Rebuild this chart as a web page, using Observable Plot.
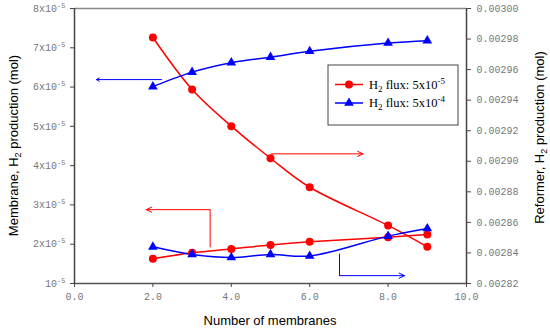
<!DOCTYPE html>
<html>
<head>
<meta charset="utf-8">
<script src="https://cdn.jsdelivr.net/npm/d3@7"></script>
<script src="https://cdn.jsdelivr.net/npm/@observablehq/plot@0.6"></script>
<style>
  html, body { margin: 0; padding: 0; background: #fff; }
  #chart svg { display: block; }
  g[aria-label="y-axis tick label"] text,
  g[aria-label="x-axis tick label"] text { font-family: "Liberation Mono", "DejaVu Sans Mono", monospace; fill: #777; }
</style>
</head>
<body>
<div id="chart"></div>
<script>
// ---- Data ----
const membranes = [2, 3, 4, 5, 6, 8, 9];
// Membrane H2 production (units of 1e-5 mol), left axis
const membraneFlux5e5 = [1.63, 1.78, 1.88, 1.98, 2.06, 2.18, 2.25];
const membraneFlux5e4 = [6.01, 6.38, 6.62, 6.76, 6.91, 7.12, 7.18];
// Reformer H2 production (mol), right axis
const reformerFlux5e5 = [0.002981, 0.002947, 0.002923, 0.002902, 0.002883, 0.002858, 0.002844];
const reformerFlux5e4 = [0.002844, 0.002839, 0.002837, 0.002839, 0.002838, 0.002851, 0.002856];

const xTicks = [0, 2, 4, 6, 8, 10];
const leftTicks = [1, 2, 3, 4, 5, 6, 7, 8];
const leftTickLabels = ["10", "2x10", "3x10", "4x10", "5x10", "6x10", "7x10", "8x10"];
const rightTicks = [0.00282, 0.00284, 0.00286, 0.00288, 0.00290, 0.00292, 0.00294, 0.00296, 0.00298, 0.00300];
const rightTickLabels = ["0.00282", "0.00284", "0.00286", "0.00288", "0.00290", "0.00292", "0.00294", "0.00296", "0.00298", "0.00300"];

const seriesColors = ["#ff0000", "#0000ff"];

// Annotation arrows (x in membranes, y in left-axis units of 1e-5)
const arrowColor = ["#0000ff", "#ff0000", "#ff0000", "#0000ff"];
const arrowX1 = [2.22, 5.02, 3.46, 6.76];
const arrowY1 = [6.19, 4.30, 2.88, 1.20];
const arrowX2 = [0.56, 7.36, 1.83, 8.42];
const arrowY2 = [6.19, 4.30, 2.88, 1.20];
const leaderColor = ["#ff0000", "#0000ff"];
const leaderX = [3.46, 6.76];
const leaderYFrom = [1.92, 1.76];
const leaderYTo = [2.88, 1.20];

// ---- Mapping right axis onto left scale ----
const rMin = 0.00282, rMax = 0.00300, lMin = 1, lMax = 8;
const r2l = v => lMin + (v - rMin) / (rMax - rMin) * (lMax - lMin);

const memRed = membranes.map((x, i) => ({x, y: membraneFlux5e5[i]}));
const memBlue = membranes.map((x, i) => ({x, y: membraneFlux5e4[i]}));
const refRed = membranes.map((x, i) => ({x, y: r2l(reformerFlux5e5[i])}));
const refBlue = membranes.map((x, i) => ({x, y: r2l(reformerFlux5e4[i])}));
const arrows = arrowX1.map((d, i) => ({x1: arrowX1[i], y1: arrowY1[i], x2: arrowX2[i], y2: arrowY2[i], c: arrowColor[i]}));
const leaders = leaderX.map((x, i) => ({x1: x, x2: x, y1: leaderYFrom[i], y2: leaderYTo[i], c: leaderColor[i]}));

const red = seriesColors[0], blue = seriesColors[1];
const curve = "catmull-rom";

const plot = Plot.plot({
  width: 550,
  height: 328,
  marginLeft: 74,
  marginRight: 84,
  marginTop: 8,
  marginBottom: 45,
  style: {fontSize: "10px", background: "#fff", overflow: "visible"},
  x: {domain: [0, 10]},
  y: {domain: [lMin, lMax]},
  marks: [
    // frame
    Plot.ruleY([lMax], {stroke: "#888", strokeWidth: 1.5}),
    Plot.ruleY([lMin], {stroke: "#555", strokeWidth: 1.5}),
    Plot.ruleX([0], {stroke: "#444", strokeWidth: 1.5}),
    Plot.ruleX([10], {stroke: "#444", strokeWidth: 1.5}),
    // axes
    Plot.axisX({ticks: xTicks, tickFormat: d3.format(".1f"), tickSize: 4, tickPadding: 5, stroke: "#444", label: null}),
    Plot.axisY({anchor: "left", ticks: leftTicks, tickFormat: d => leftTickLabels[leftTicks.indexOf(d)], tickSize: 4, tickPadding: 5, stroke: "#444", label: null}),
    Plot.axisY({anchor: "right", ticks: rightTicks.map(r2l), tickFormat: (d, i) => rightTickLabels[i], tickSize: 4, tickPadding: 6, stroke: "#444", label: null}),
    // annotations
    Plot.link(leaders, {x1: "x1", y1: "y1", x2: "x2", y2: "y2", stroke: "c", strokeWidth: 1}),
    Plot.arrow(arrows.slice(0, 1), {x1: "x1", y1: "y1", x2: "x2", y2: "y2", stroke: "c", strokeWidth: 1, headLength: 5, headAngle: 60}),
    Plot.arrow(arrows.slice(1), {x1: "x1", y1: "y1", x2: "x2", y2: "y2", stroke: "c", strokeWidth: 1, headLength: 9, headAngle: 50}),
    // series
    Plot.line(memRed, {x: "x", y: "y", stroke: red, strokeWidth: 1.5, curve}),
    Plot.line(refRed, {x: "x", y: "y", stroke: red, strokeWidth: 1.5, curve}),
    Plot.line(memBlue, {x: "x", y: "y", stroke: blue, strokeWidth: 1.5, curve}),
    Plot.line(refBlue, {x: "x", y: "y", stroke: blue, strokeWidth: 1.5, curve}),
    Plot.dot(memRed, {x: "x", y: "y", fill: red, r: 4, symbol: "circle"}),
    Plot.dot(refRed, {x: "x", y: "y", fill: red, r: 4, symbol: "circle"}),
    Plot.dot(memBlue, {x: "x", y: "y", fill: blue, r: 3.6, symbol: "triangle"}),
    Plot.dot(refBlue, {x: "x", y: "y", fill: blue, r: 3.6, symbol: "triangle"})
  ]
});

document.getElementById("chart").appendChild(plot);

const svg = d3.select(plot);
// superscripts on left tick labels
svg.selectAll('g[aria-label="y-axis tick label"] text').each(function () {
  const t = d3.select(this);
  const s = t.text();
  if (leftTickLabels.includes(s)) {
    t.text(null);
    t.append("tspan").text(s);
    t.append("tspan").attr("dy", "-4").attr("font-size", "7").text("-5");
  }
});

const xs = plot.scale("x"), ys = plot.scale("y");
const cx = (xs.range[0] + xs.range[1]) / 2;
const cy = (ys.range[0] + ys.range[1]) / 2;
const sans = "'Liberation Sans', Arial, sans-serif";

function titleWithSub(g, before, sub, after) {
  g.append("tspan").text(before);
  g.append("tspan").attr("dy", 3).attr("font-size", 9).text(sub);
  g.append("tspan").attr("dy", -3).text(after);
}

svg.append("text")
  .attr("x", cx).attr("y", 325)
  .attr("text-anchor", "middle")
  .attr("font-family", sans).attr("font-size", 13).attr("fill", "#000")
  .text("Number of membranes");

const lt = svg.append("text")
  .attr("transform", `translate(18,${cy}) rotate(-90)`)
  .attr("text-anchor", "middle")
  .attr("font-family", sans).attr("font-size", 13).attr("fill", "#000");
titleWithSub(lt, "Membrane, H", "2", " production (mol)");

const rt = svg.append("text")
  .attr("transform", `translate(544,${cy - 8}) rotate(-90)`)
  .attr("text-anchor", "middle")
  .attr("font-family", sans).attr("font-size", 13).attr("fill", "#000");
titleWithSub(rt, "Reformer, H", "2", " production (mol)");

// legend
const serif = "'Liberation Serif', 'Times New Roman', serif";
const lg = svg.append("g");
lg.append("rect").attr("x", 328).attr("y", 65).attr("width", 130).attr("height", 60)
  .attr("fill", "#fff").attr("stroke", "#444").attr("stroke-width", 1);
const entryY = [84.5, 103];
const legendSup = ["-5", "-4"];
seriesColors.forEach((c, i) => {
  const y = entryY[i];
  lg.append("line").attr("x1", 335).attr("x2", 363).attr("y1", y).attr("y2", y)
    .attr("stroke", c).attr("stroke-width", 1.5);
  if (i === 0) lg.append("circle").attr("cx", 349).attr("cy", y).attr("r", 4).attr("fill", c);
  else lg.append("path").attr("d", d3.symbol(d3.symbolTriangle, Math.PI * 3.6 * 3.6)()).attr("transform", `translate(349,${y})`).attr("fill", c);
  const t = lg.append("text").attr("x", 369).attr("y", y + 4)
    .attr("text-anchor", "start")
    .attr("font-family", serif).attr("font-size", 12.5).attr("fill", "#000");
  t.append("tspan").text("H");
  t.append("tspan").attr("dy", 3).attr("font-size", 9).text("2");
  t.append("tspan").attr("dy", -3).text(" flux: 5x10");
  t.append("tspan").attr("dy", -5).attr("font-size", 9).text(legendSup[i]);
});
</script>
</body>
</html>
